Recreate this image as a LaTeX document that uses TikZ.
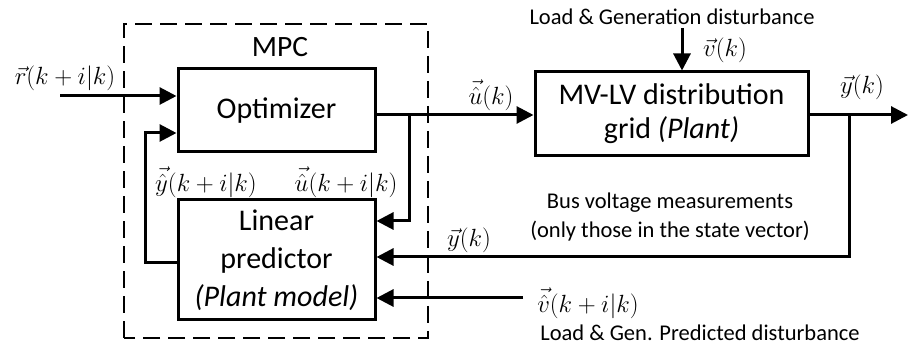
\documentclass[tikz,border=0pt]{standalone}
\usepackage{fontspec}
\usepackage{amsmath}
\setmainfont{Carlito}
\usetikzlibrary{
  arrows.meta,
  positioning,
  calc
}
\definecolor{mpcLine}{HTML}{000000}
\tikzset{
  blk/.style={
    draw, line width=3pt, minimum width=197pt, align=center,
    font=\fontsize{30}{37}\selectfont
  },
  sig/.style={-{Triangle[length=17pt, width=17pt]}, line width=3pt},
  wire/.style={line width=3pt},
  mpczone/.style={draw=mpcLine, line width=2.6pt, dash pattern=on 17pt off 8pt},
  lbl/.style={font=\fontsize{22.5}{29}\selectfont, align=center, inner sep=0pt},
  mlbl/.style={font=\fontsize{28}{32}\selectfont, inner sep=0pt},
  title/.style={font=\fontsize{29.5}{34}\selectfont, inner sep=0pt}
}
\begin{document}
\begin{tikzpicture}[x=1pt, y=1pt]
  \useasboundingbox (0,0) rectangle (908,348);
  % blocks
  \node[blk, minimum height=83pt] (opt) at (276.5,237.5) {Optimizer};
  \node[blk, minimum height=120pt, font=\fontsize{30}{38}\selectfont] (pred) at (276.5,88) {Linear\\predictor\\\textit{(Plant model)}};
  \node[blk, minimum width=273pt, minimum height=84pt, font=\fontsize{30}{34}\selectfont] (plant) at (671.5,234) {MV-LV distribution\\grid \textit{(Plant)}};
  \draw[mpczone] (124,10) rectangle (428,324);
  \node[title] (mpc) at (280,301) {MPC};
  % ports
  \coordinate (rin) at (60,252);
  \coordinate (ubr) at (409,233);
  \coordinate (ybr) at (849,233);
  \coordinate (yout) at (908,233);
  \coordinate (vin) at (682,320);
  \coordinate (vhat) at (523,50);
  \coordinate (yfb) at (145,85);
  % connectors
  \draw[sig] (rin) -- (rin -| opt.west);
  \draw[sig] (opt.east |- ubr) -- (plant.west |- ubr);
  \draw[sig] (ubr) |- ($(pred.east)+(0,39)$);
  \draw[sig] (vin) -- (vin |- plant.north);
  \draw[sig] (plant.east |- ybr) -- (yout);
  \draw[sig] (ybr) |- ($(pred.east)+(0,3)$);
  \draw[sig] (vhat) -- (vhat -| pred.east);
  \draw[sig] (pred.west |- yfb) -- (yfb) |- ($(opt.west)+(0,-22.5)$);
  % labels
  \node[mlbl] (rlbl) at (65,270) {$\vec{r}(k+i|k)$};
  \node[mlbl] (yhlbl) at (206,166) {$\vec{\hat{y}}(k+i|k)$};
  \node[mlbl] (uhlbl) at (346,166) {$\vec{\hat{u}}(k+i|k)$};
  \node[mlbl] (ulbl) at (491,253) {$\vec{\hat{u}}(k)$};
  \node[lbl] (dist) at (672,331) {Load \& Generation disturbance};
  \node[mlbl] (vlbl) at (725,298) {$\vec{v}(k)$};
  \node[mlbl] (ylbl) at (862,261) {$\vec{y}(k)$};
  \node[mlbl] (yfblbl) at (469,108) {$\vec{y}(k)$};
  \node[lbl, font=\fontsize{22.5}{29}\selectfont] (meas) at (670,131) {Bus voltage measurements\\(only those in the state vector)};
  \node[mlbl] (vhlbl) at (588,45) {$\vec{\hat{v}}(k+i|k)$};
  \node[lbl] (pdist) at (700,15) {Load \& Gen. Predicted disturbance};
\end{tikzpicture}
\end{document}
